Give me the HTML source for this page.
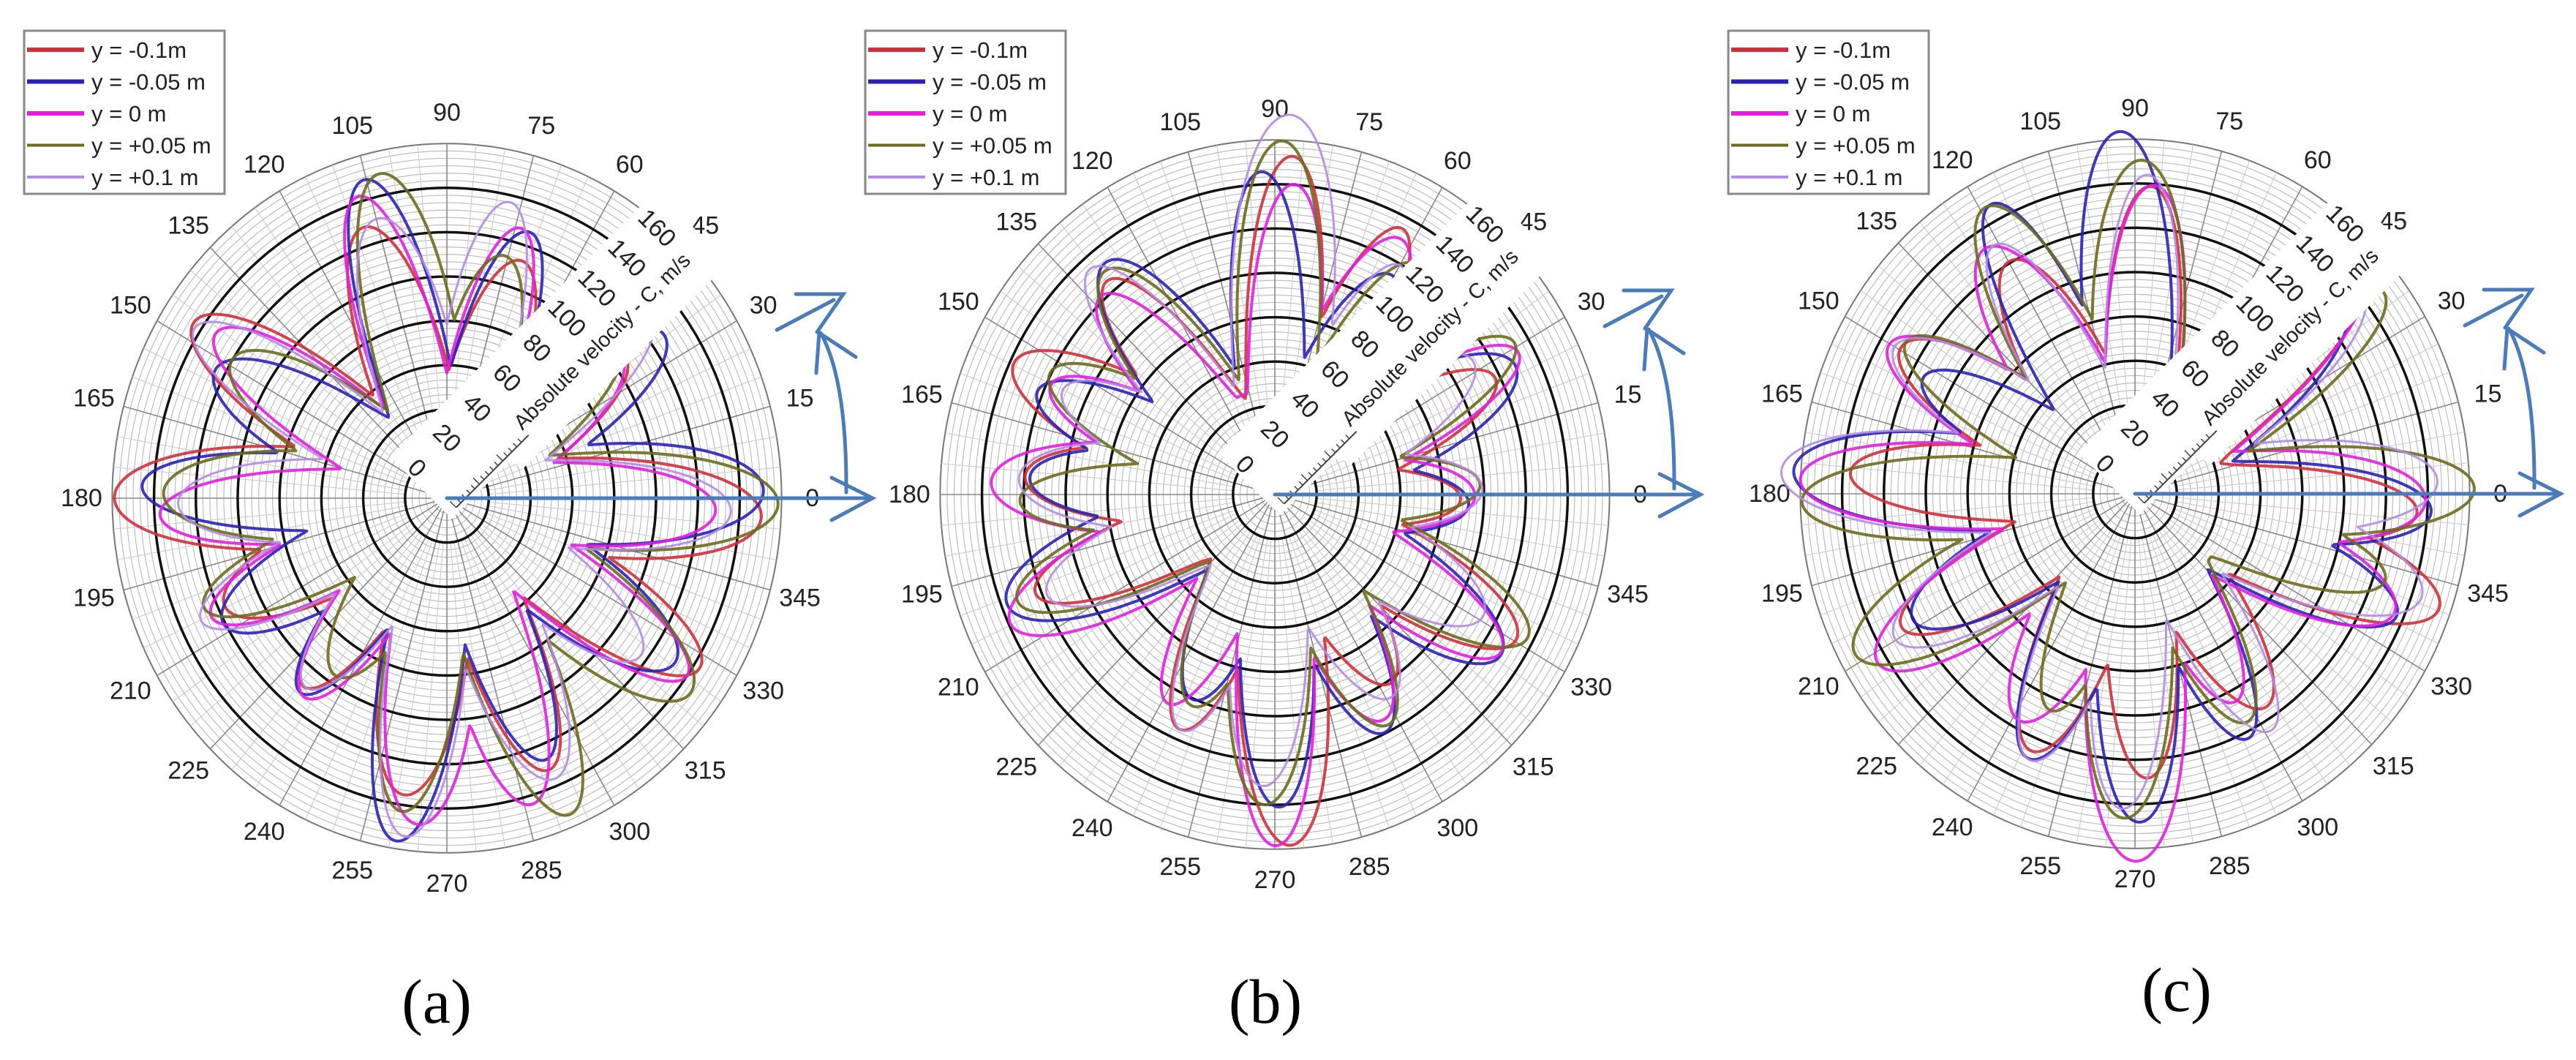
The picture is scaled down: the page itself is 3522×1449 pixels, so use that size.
<!DOCTYPE html>
<html><head><meta charset="utf-8">
<style>html,body{margin:0;padding:0;background:#fff;overflow:hidden}svg{display:block}</style>
</head><body>
<svg id="s" xmlns="http://www.w3.org/2000/svg" width="3522" height="1449" viewBox="0 0 3522 1449">
<rect width="3522" height="1449" fill="#fff"/>
</svg>
<script>
const S=document.getElementById('s');const NS='http://www.w3.org/2000/svg';
function el(t,a,p){const e=document.createElementNS(NS,t);for(const k in a)e.setAttribute(k,a[k]);(p||S).appendChild(e);return e;}
const COLS=['#d0303a','#2a22b8','#e21fe0','#6e6a1c','#b48ae6'];
const LEG=['y = -0.1m','y = -0.05 m','y = 0 m','y = +0.05 m','y = +0.1 m'];
const panels=[
 {cx:611,cy:681,lx:33,lab:'(a)',labx:597,laby:1398,seed:1},
 {cx:1743,cy:676,lx:1183,lab:'(b)',labx:1730,laby:1398,seed:2},
 {cx:2919,cy:675,lx:2363,lab:'(c)',labx:2976,laby:1382,seed:3}];
const UX=2.86,UY=3.03;
const lobes={
1:[[0,150],[38,120],[75,130],[105,150],[150,140],[180,150],[205,120],[235,110],[265,150],[290,140],[325,135]],
2:[[0,95],[30,130],[60,125],[90,155],[130,125],[155,130],[180,130],[205,135],[245,110],[270,150],[300,115],[330,130]],
3:[[0,155],[40,145],[90,155],[120,140],[150,130],[180,160],[212,140],[245,120],[270,150],[300,120],[340,140]]};
function rnd(s){let x=Math.sin(s*9301+49297)*233280;return x-Math.floor(x);}
panels.forEach((p,pi)=>{
 const g=el('g',{});
 const cx=p.cx,cy=p.cy;
 for(let u=3.33;u<160;u+=3.333){el('ellipse',{cx,cy,rx:u*UX,ry:u*UY,fill:'none',stroke:'#bdbdbd','stroke-width':1.2},g);}
 el('ellipse',{cx,cy,rx:160*UX,ry:160*UY,fill:'none',stroke:'#777','stroke-width':2},g);
 for(let a=0;a<360;a+=5){const t=a*Math.PI/180;const r0=(a%15==0)?0:20;
  el('line',{x1:cx+r0*UX*Math.cos(t),y1:cy-r0*UY*Math.sin(t),x2:cx+160*UX*Math.cos(t),y2:cy-160*UY*Math.sin(t),stroke:a%15==0?'#888':'#c8c8c8','stroke-width':a%15==0?1.6:1},g);}
 for(let k=1;k<=7;k++){el('ellipse',{cx,cy,rx:k*20*UX,ry:k*20*UY,fill:'none',stroke:'#111','stroke-width':3.5},g);}
 for(let a=0;a<360;a+=15){const t=a*Math.PI/180;
  const x=cx+(160*UX+42)*Math.cos(t),y=cy-(160*UY+42)*Math.sin(t);
  const tx=el('text',{x,y,'text-anchor':'middle','dominant-baseline':'central','font-family':'Liberation Sans, sans-serif','font-size':34,fill:'#222'},g);tx.textContent=a;}
 const L=lobes[p.seed];
 for(let c=0;c<5;c++){
  const N=720;const pts=[];
  for(let i=0;i<=N;i++){const a=i*360/N;let r=38+10*rnd(c*7+p.seed);
   L.forEach((lb,li)=>{let da=((a-lb[0]+540)%360)-180;
    const w=9+3*rnd(li*3+c+p.seed*11);
    const amp=(lb[1]-38)*(0.8+0.35*rnd(li*5+c*13+p.seed*17));
    const sh=(rnd(li+c*19+p.seed)-0.5)*8;da-=sh;
    r=Math.max(r,38+amp*Math.exp(-da*da/(2*w*w)));});
   const t=a*Math.PI/180;pts.push([cx+r*UX*Math.cos(t),cy-r*UY*Math.sin(t)]);}
  const d='M'+pts.map(q=>q[0].toFixed(1)+','+q[1].toFixed(1)).join('L')+'Z';
  el('path',{d,fill:'none',stroke:COLS[c],'stroke-width':c==4?3:4,'stroke-linejoin':'round',opacity:0.9},g);
 }
 const b=el('g',{transform:`translate(${cx},${cy}) rotate(-45)`},g);
 el('path',{d:'M-15,-95 L540,-95 L540,-30 L500,-30 L500,45 L100,45 L100,25 L-15,25 Z',fill:'#fff'},b);
 el('line',{x1:0,y1:18,x2:140,y2:18,stroke:'#444','stroke-width':2},b);
 for(let k=0;k<=14;k++){el('line',{x1:k*9,y1:18,x2:k*9,y2:k%5==0?6:11,stroke:'#444','stroke-width':1.5},b);}
 for(let k=0;k<=8;k++){const t=el('text',{x:k*58,y:-58,transform:`rotate(90 ${k*58} -58)`,'text-anchor':'middle','dominant-baseline':'central','font-family':'Liberation Sans, sans-serif','font-size':34,fill:'#222'},b);t.textContent=String(k*20);}
 const tt=el('text',{x:138,y:8,'font-family':'Liberation Sans, sans-serif','font-size':29,fill:'#222'},b);tt.textContent='Absolute velocity - C, m/s';
 el('rect',{x:p.lx,y:42,width:274,height:223,fill:'#fff',stroke:'#888','stroke-width':3},g);
 for(let i=0;i<5;i++){const y=68+i*43.5;
  el('line',{x1:p.lx+4,y1:y,x2:p.lx+82,y2:y,stroke:COLS[i],'stroke-width':i<3?6:4},g);
  const t=el('text',{x:p.lx+92,y:y+11,'font-family':'Liberation Sans, sans-serif','font-size':31,fill:'#222'},g);t.textContent=LEG[i];}
 const ag=el('g',{transform:`translate(${cx-611},${cy-681})`,stroke:'#4a7bbb','stroke-width':5,fill:'none','stroke-linecap':'round'},g);
 el('line',{x1:611,y1:681,x2:1193,y2:681},ag);
 el('polyline',{points:'1137,653 1193,681 1137,711'},ag);
 el('path',{d:'M1157,673 Q1158,520 1122,455'},ag);
 el('polyline',{points:'1116,510 1120,455 1170,488'},ag);
 el('polyline',{points:'1088,402 1153,402 1117,454'},ag);
 el('line',{x1:1062,y1:451,x2:1140,y2:410},ag);
 const lt=el('text',{x:p.labx,y:p.laby,'text-anchor':'middle','font-family':'Liberation Serif, serif','font-size':86,fill:'#000'},g);lt.textContent=p.lab;
});
</script>
</body></html>
